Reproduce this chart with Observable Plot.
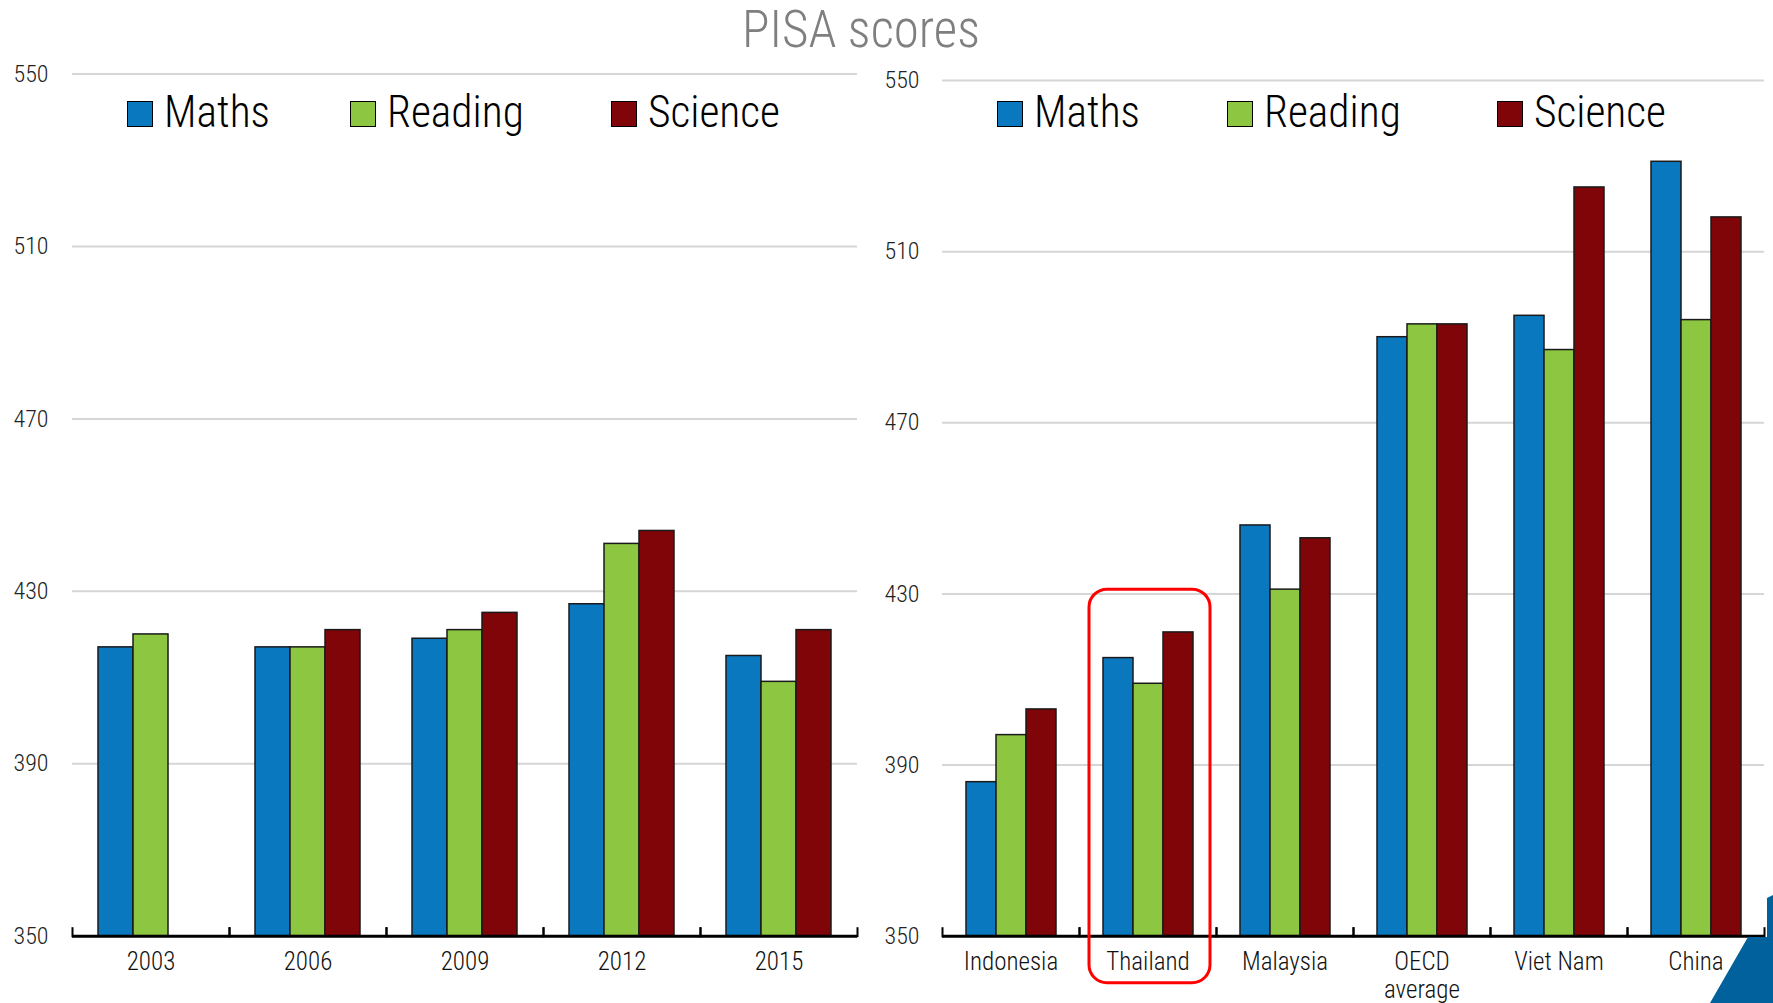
<!DOCTYPE html>
<html>
<head>
<meta charset="utf-8">
<script src="https://cdn.jsdelivr.net/npm/d3@7"></script>
<script src="https://cdn.jsdelivr.net/npm/@observablehq/plot@0.6"></script>
<style>
  body { margin: 0; background: #fff; }
  #page { position: relative; width: 1773px; height: 1003px; overflow: hidden;
          font-family: "Roboto Condensed", "Liberation Sans Narrow", "DejaVu Sans Condensed", sans-serif; font-weight: 300; }
  #title { position: absolute; left: 0; top: 0; width: 1722px; height: 60px; line-height: 60px;
           text-align: center; font-size: 51px; color: #7f7f7f; }
  .panel { position: absolute; top: 60px; }
  .item { position: absolute; top: 89px; white-space: nowrap; line-height: 48px; font-size: 43.5px; color: #000; z-index: 2; }
  .item .sw { display: inline-block; width: 26px; height: 26px; box-sizing: border-box;
              border: 1.5px solid #000; vertical-align: baseline; margin-right: 11px; }
  #tri { position: absolute; left: 1700px; top: 890px; width: 73px; height: 113px; background: #00619c;
         clip-path: polygon(10px 113px, 48px 47px, 67px 47px, 67px 8px, 73px 5px, 73px 113px); z-index: 3; }
</style>
</head>
<body>
<div id="page">
  <div id="title">PISA scores</div>
  <div id="left" class="panel" style="left:0"></div>
  <div id="right" class="panel" style="left:870px"></div>
  <div id="tri"></div>
</div>
<script>
// ---- data ----
const subjects = ["Maths", "Reading", "Science"];
const colors = ["#0a78bf", "#8dc641", "#7f0508"];

const years = ["2003", "2006", "2009", "2012", "2015"];
const thailandMaths   = [417, 417, 419, 427, 415];
const thailandReading = [420, 417, 421, 441, 409];
const thailandScience = [null, 421, 425, 444, 421];

const countries = ["Indonesia", "Thailand", "Malaysia", "OECD average", "Viet Nam", "China"];
const countryMaths   = [386, 415, 446, 490, 495, 531];
const countryReading = [397, 409, 431, 493, 487, 494];
const countryScience = [403, 421, 443, 493, 525, 518];

const yTicks = [350, 390, 430, 470, 510, 550];
const highlight = [{group: "Thailand", y1: 339, y2: 431}];

// ---- build tables ----
function rowsFrom(groups, series) {
  const rows = [];
  groups.forEach((g, i) => {
    subjects.forEach((s, j) => {
      const v = series[j][i];
      if (v != null) rows.push({group: g, subject: s, value: v});
    });
  });
  return rows;
}
const leftRows = rowsFrom(years, [thailandMaths, thailandReading, thailandScience]);
const rightRows = rowsFrom(countries, [countryMaths, countryReading, countryScience]);

const FONT = '"Roboto Condensed", "Liberation Sans Narrow", "DejaVu Sans Condensed", sans-serif';

function panel({groups, rows, width, height, marginLeft, marginRight, marginTop, marginBottom, paddingOuter, tickPadding, extra = []}) {
  const plotH = height - marginTop - marginBottom;
  return Plot.plot({
    width, height, marginLeft, marginRight, marginTop, marginBottom,
    style: {fontFamily: FONT, fontWeight: 300, background: "transparent", color: "#000", overflow: "visible"},
    fx: {domain: groups, padding: 0, label: null},
    x: {domain: subjects, paddingInner: 0, paddingOuter, axis: null},
    y: {domain: [yTicks[0], yTicks[yTicks.length - 1]], label: null},
    color: {domain: subjects, range: colors},
    marks: [
      Plot.gridY(yTicks, {stroke: "#d6d6d6", strokeOpacity: 1, strokeWidth: 2}),
      Plot.barY(rows, {fx: "group", x: "subject", y1: yTicks[0], y2: "value", fill: "subject",
                       stroke: "#1a1a1a", strokeWidth: 1.5}),
      Plot.ruleY([yTicks[0]], {stroke: "#000", strokeWidth: 3}),
      Plot.frame({anchor: "left", insetTop: plotH - 8, stroke: "#000", strokeWidth: 2}),
      Plot.frame({anchor: "right", insetTop: plotH - 8, stroke: "#000", strokeWidth: 2}),
      ...extra,
      Plot.axisY(yTicks, {tickSize: 0, tickPadding, fontSize: 24, fill: "#222", label: null}),
      Plot.axisFx({anchor: "bottom", tickSize: 0, tickPadding: 13, fontSize: 25, lineHeight: 1.15,
                   fill: "#111", label: null, tickFormat: d => d.replace("OECD ", "OECD\n")})
    ]
  });
}

document.getElementById("left").append(panel({
  groups: years, rows: leftRows, width: 870, height: 943,
  marginLeft: 70, marginRight: 11, marginTop: 13.5, marginBottom: 67.3,
  paddingOuter: 0.72, tickPadding: 24
}));

document.getElementById("right").append(panel({
  groups: countries, rows: rightRows, width: 903, height: 943,
  marginLeft: 69, marginRight: 7, marginTop: 20, marginBottom: 67.3,
  paddingOuter: 0.75, tickPadding: 23,
  extra: [Plot.rect(highlight, {fx: "group", y1: "y1", y2: "y2", fill: "none", stroke: "#f00",
                                 strokeWidth: 3, rx: 18, insetLeft: 10, insetRight: 6})]
}));

// legend items, placed where the reference places them
function legend(lefts) {
  const page = document.getElementById("page");
  subjects.forEach((s, i) => {
    const item = document.createElement("div");
    item.className = "item";
    item.style.left = lefts[i] + "px";
    const sw = document.createElement("span");
    sw.className = "sw";
    sw.style.background = colors[i];
    item.append(sw, document.createTextNode(s));
    page.append(item);
  });
}
legend([127, 350, 611]);
legend([997, 1227, 1497]);
</script>
</body>
</html>
